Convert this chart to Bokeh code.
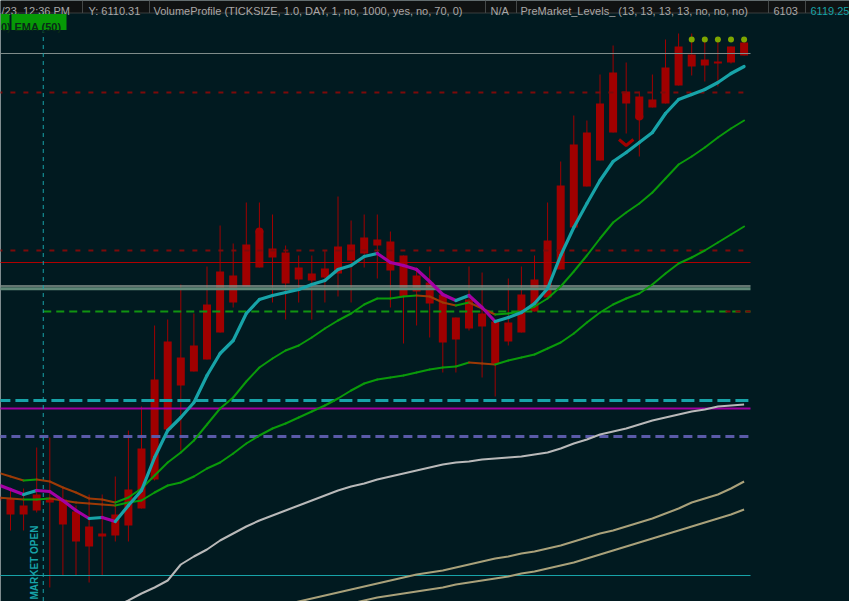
import numpy as np
from bokeh.plotting import figure
from bokeh.models import Range1d
from bokeh.core.properties import value
from bokeh.embed import file_html
from bokeh.resources import INLINE

# ---------------- data ----------------
bar_index = list(range(-1, 57))
opens = [6078.4, 6078.2, 6077.5, 6078.6, 6078.3, 6078.1, 6076.9, 6075.4, 6074.7, 6076.6,
         6079.1, 6083.2, 6090.1, 6093.9, 6092.3, 6093.5, 6097.6, 6100.9, 6100.5, 6103.6,
         6105.0, 6103.2, 6102.8, 6101.3, 6100.7, 6101.2, 6103.4, 6103.6, 6104.3, 6104.1,
         6103.9, 6102.5, 6100.5, 6099.8, 6098.6, 6096.3, 6098.1, 6096.7, 6095.9, 6095.8,
         6098.6, 6100.1, 6104.0, 6109.5, 6113.6, 6114.8, 6117.7, 6120.8, 6118.9, 6118.4,
         6118.1, 6121.3, 6123.4, 6122.6, 6122.1, 6121.9, 6123.4, 6123.8]
closes = [6078.0, 6076.6, 6076.6, 6077.0, 6077.8, 6075.6, 6073.9, 6073.4, 6074.4, 6074.5,
          6075.5, 6077.2, 6080.1, 6085.1, 6089.5, 6090.9, 6092.1, 6094.8, 6097.8, 6099.4,
          6101.3, 6102.3, 6099.7, 6100.1, 6100.0, 6100.3, 6100.7, 6102.0, 6102.7, 6103.5,
          6101.0, 6098.4, 6098.9, 6097.7, 6093.8, 6094.1, 6095.2, 6095.4, 6091.7, 6093.9,
          6094.8, 6096.9, 6098.3, 6101.1, 6105.3, 6109.4, 6112.0, 6114.8, 6117.7, 6116.2,
          6117.3, 6117.7, 6119.5, 6121.4, 6121.5, 6121.7, 6121.8, 6122.5]
highs = [6079.0, 6079.0, 6079.2, 6083.3, 6084.3, 6079.3, 6077.5, 6078.6, 6078.6, 6080.4,
         6085.0, 6087.4, 6095.5, 6096.1, 6099.6, 6096.7, 6101.4, 6105.5, 6103.7, 6107.8,
         6107.8, 6106.6, 6103.5, 6102.5, 6102.5, 6103.0, 6108.4, 6106.0, 6106.6, 6106.6,
         6104.9, 6102.5, 6101.3, 6101.4, 6098.6, 6096.3, 6101.4, 6100.8, 6095.9, 6100.2,
         6101.4, 6102.5, 6107.8, 6111.9, 6116.5, 6116.0, 6120.6, 6123.5, 6121.8, 6118.9,
         6120.6, 6124.1, 6124.7, 6124.7, 6124.1, 6124.0, 6123.4, 6123.8]
lows = [6077.5, 6075.0, 6075.0, 6076.8, 6069.3, 6070.5, 6070.5, 6069.8, 6070.5, 6073.9,
        6073.9, 6077.2, 6080.0, 6085.1, 6083.0, 6090.9, 6092.1, 6094.8, 6097.3, 6099.4,
        6101.3, 6097.8, 6096.1, 6097.8, 6096.1, 6097.8, 6098.4, 6097.8, 6101.3, 6100.2,
        6097.3, 6093.7, 6095.5, 6094.3, 6090.8, 6090.8, 6095.0, 6090.3, 6088.4, 6093.5,
        6094.8, 6096.9, 6098.3, 6101.1, 6105.3, 6109.4, 6112.0, 6114.8, 6114.7, 6112.4,
        6117.3, 6117.7, 6119.5, 6120.5, 6119.9, 6119.4, 6121.7, 6122.5]

ema_fast = [6079.6, 6079.1, 6078.6, 6079.0, 6078.9, 6078.0, 6077.0, 6076.2, 6076.3, 6075.9,
            6077.5, 6079.0, 6082.3, 6085.0, 6086.3, 6087.8, 6090.5, 6092.7, 6094.0, 6096.7,
            6098.1, 6098.5, 6098.8, 6099.1, 6099.6, 6100.0, 6101.1, 6101.5, 6102.4, 6102.7,
            6101.8, 6101.5, 6101.1, 6099.9, 6098.6, 6098.0, 6098.5, 6097.3, 6095.9, 6096.3,
            6096.8, 6097.7, 6099.2, 6102.5, 6105.3, 6107.7, 6110.0, 6111.9, 6112.8, 6113.8,
            6114.8, 6116.7, 6118.1, 6118.6, 6119.1, 6119.8, 6120.7, 6121.4]
ema_20 = [6080.8, 6080.4, 6080.0, 6080.1, 6079.9, 6079.3, 6078.8, 6078.2, 6078.1, 6077.8,
          6078.3, 6079.2, 6080.5, 6081.8, 6082.8, 6084.0, 6085.6, 6087.2, 6088.3, 6089.9,
          6091.3, 6092.2, 6093.0, 6093.5, 6094.3, 6095.2, 6096.0, 6096.7, 6097.6, 6098.2,
          6098.2, 6098.4, 6098.5, 6098.4, 6097.8, 6097.5, 6097.8, 6097.2, 6096.6, 6096.7,
          6096.9, 6097.4, 6098.2, 6099.4, 6100.9, 6102.5, 6104.2, 6105.8, 6106.8, 6107.7,
          6108.8, 6110.2, 6111.6, 6112.4, 6113.3, 6114.3, 6115.2, 6116.0]
ema_50 = [6078.3, 6078.2, 6078.1, 6078.1, 6078.2, 6078.0, 6077.8, 6077.7, 6077.6, 6077.5,
          6077.8, 6078.0, 6078.8, 6079.5, 6079.8, 6080.4, 6081.2, 6081.8, 6082.7, 6083.7,
          6084.5, 6085.2, 6085.7, 6086.3, 6086.9, 6087.5, 6088.2, 6089.0, 6089.7, 6090.1,
          6090.3, 6090.5, 6090.8, 6091.1, 6091.3, 6091.4, 6091.8, 6091.7, 6091.6, 6092.0,
          6092.3, 6092.6, 6093.2, 6093.8, 6094.7, 6095.8, 6096.8, 6097.6, 6098.2, 6098.7,
          6099.6, 6100.7, 6101.7, 6102.3, 6103.0, 6103.8, 6104.6, 6105.4]

sma_bars = list(range(7, 57))
sma_gray = [6066.9, 6067.4, 6068.0, 6068.7, 6069.3, 6070.0, 6071.6, 6072.4, 6073.1, 6074.0,
            6074.7, 6075.4, 6076.0, 6076.5, 6077.0, 6077.5, 6078.0, 6078.5, 6079.0, 6079.4,
            6079.7, 6080.1, 6080.4, 6080.7, 6081.0, 6081.3, 6081.6, 6081.8, 6081.9, 6082.1,
            6082.2, 6082.3, 6082.4, 6082.6, 6082.8, 6083.2, 6083.7, 6084.1, 6084.6, 6084.9,
            6085.2, 6085.6, 6086.0, 6086.3, 6086.6, 6086.9, 6087.1, 6087.4, 6087.5, 6087.6]
khaki1_bars = list(range(19, 57))
khaki1 = [6067.0, 6067.3, 6067.6, 6067.9, 6068.2, 6068.5, 6068.8, 6069.1, 6069.4, 6069.7,
          6070.0, 6070.3, 6070.6, 6070.8, 6071.0, 6071.3, 6071.6, 6071.9, 6072.2, 6072.4,
          6072.7, 6072.9, 6073.2, 6073.5, 6073.9, 6074.3, 6074.7, 6075.0, 6075.4, 6075.8,
          6076.2, 6076.7, 6077.2, 6077.8, 6078.2, 6078.6, 6079.2, 6079.9]
khaki2_bars = list(range(23, 57))
khaki2 = [6066.9, 6067.3, 6067.5, 6067.7, 6068.0, 6068.3, 6068.5, 6068.7, 6068.9, 6069.1,
          6069.3, 6069.6, 6069.8, 6070.0, 6070.2, 6070.4, 6070.7, 6070.9, 6071.2, 6071.5,
          6071.8, 6072.2, 6072.6, 6073.0, 6073.4, 6073.8, 6074.2, 6074.6, 6075.0, 6075.4,
          6075.8, 6076.2, 6076.6, 6077.1]

level_prices = [6122.7, 6118.8, 6103.0, 6101.8, 6099.45, 6099.17, 6096.9, 6088.0, 6087.2, 6084.4, 6070.5]
market_open_bar = 2.5
signal_bars = [47]
signal_prices = [6113.5]
bubble_bars = [19, 48]
bubble_prices = [6104.9, 6116.4]
dot_bars = [52, 53, 54, 55, 56]
dot_prices = [6124.1, 6124.1, 6124.1, 6124.1, 6124.1]

header_texts = ["/23, 12:36 PM", "Y: 6110.31",
                "VolumeProfile (TICKSIZE, 1.0, DAY, 1, no, 1000, yes, no, 70, 0)", "N/A",
                "PreMarket_Levels_ (13, 13, 13, 13, no, no, no)", "6103", "6119.25"]

# ---------------- styles / layout ----------------
BG = "#011a20"
RED = "#a00000"
CYAN = "#17a3a8"
MAGENTA = "#a400a4"
GREEN = "#0a9a0a"
BROWN = "#9c3a06"
W, H = 849, 601
BAR_PX, X0_PX, PX_PER_PT, TOP_PRICE = 13.1, 10.0, 10.0, 6128.0
HEAD_PX = 12.5


def px_x(px):
    return (px - X0_PX) / BAR_PX


def px_y(py):
    return TOP_PRICE - py / PX_PER_PT


level_styles = [("#7f8c8a", 1, "solid"), ("#7c0a0a", 2, "5 8"), ("#7c0a0a", 2, "5 8"),
                ("#b00000", 1, "solid"), ("#86948d", 1.5, "solid"), ("#5f8877", 3, "solid"),
                ("#119311", 2, "8 5"), (CYAN, 3, "13 5"), ("#a000a0", 2, "solid"),
                ("#5a5aa8", 3, "9 5"), (CYAN, 1, "solid")]
LEVEL_START, LEVEL_END = -1.0, px_x(750)

p = figure(width=W, height=H, x_range=Range1d(px_x(0), px_x(W)),
           y_range=Range1d(px_y(H), px_y(0)), x_axis_type=None, y_axis_type=None,
           output_backend="svg", toolbar_location=None, min_border=0,
           background_fill_color=BG, border_fill_color=BG, outline_line_color=None)

x = np.array(bar_index, dtype=float)
# candles
p.segment(x, highs, x, lows, line_color=RED, line_width=1)
p.vbar(x=x, width=8 / BAR_PX, top=opens, bottom=closes, fill_color=RED, line_color=None)
p.scatter(bubble_bars, bubble_prices, marker="circle", size=8, fill_color=RED, line_color=None)

# price levels
for i, (lvl, (col, lw, dash)) in enumerate(zip(level_prices, level_styles)):
    start = market_open_bar if i == 6 else LEVEL_START
    p.segment([start], [lvl], [LEVEL_END], [lvl], line_color=col, line_width=lw, line_dash=dash)
p.segment([px_x(725)], [level_prices[6]], [LEVEL_END], [level_prices[6]],
          line_color="#7c0a0a", line_width=2, line_dash="5 5")

# market open line + label
p.segment([market_open_bar], [px_y(HEAD_PX)], [market_open_bar], [px_y(H)],
          line_color=CYAN, line_width=1, line_dash="4 4")
p.text(x=[market_open_bar - 0.66], y=[px_y(599)], text=["MARKET OPEN"], angle=np.pi / 2,
       text_font=value("Liberation Sans"), text_font_size="10px", text_font_style="bold",
       text_color=CYAN, text_align="left", text_baseline="alphabetic")

# slow averages
p.line(khaki1_bars, khaki1, line_color="#a9a17a", line_width=2)
p.line(khaki2_bars, khaki2, line_color="#a9a17a", line_width=2)
p.line(sma_bars, sma_gray, line_color="#b9b9b9", line_width=2)


def two_tone(vals, up_col, dn_col, lw):
    v = np.array(vals)
    cols = [up_col if v[k + 1] >= v[k] else dn_col for k in range(len(v) - 1)]
    p.segment(x[:-1], v[:-1], x[1:], v[1:], line_color=cols, line_width=lw, line_cap="round")


two_tone(ema_50, GREEN, BROWN, 2)
two_tone(ema_20, GREEN, BROWN, 2)
two_tone(ema_fast, CYAN, MAGENTA, 3.2)

# signal chevron and dots
sx = [[b - 0.55, b, b + 0.55] for b in signal_bars]
sy = [[v + 0.6, v, v + 0.6] for v in signal_prices]
p.multi_line(sx, sy, line_color=RED, line_width=3)
p.scatter(dot_bars, dot_prices, marker="circle", size=6, fill_color="#7ea600", line_color=None)

# header strip
p.quad(left=[px_x(0)], right=[px_x(W)], top=[px_y(0)], bottom=[px_y(HEAD_PX)],
       fill_color="#101212", line_color=None)
p.segment([px_x(0)], [px_y(HEAD_PX)], [px_x(W)], [px_y(HEAD_PX)], line_color="#3a3d3d", line_width=1)
sep_px = [82, 149, 485, 516, 768, 805]
p.segment([px_x(s) for s in sep_px], [px_y(0)] * 6, [px_x(s) for s in sep_px], [px_y(HEAD_PX)] * 6,
          line_color="#444848", line_width=1)
head_px = [1, 88, 153, 490, 520, 773, 810]
head_cols = ["#a8a8a8"] * 6 + [CYAN]
p.text(x=[px_x(h) for h in head_px], y=[px_y(10)] * 7, text=header_texts,
       text_font=value("Liberation Sans"), text_font_size="11px", text_color=head_cols,
       text_align="left", text_baseline="alphabetic")

# study labels
p.quad(left=[px_x(0), px_x(11)], right=[px_x(9), px_x(66)], top=[px_y(13.5)] * 2,
       bottom=[px_y(29.5)] * 2, fill_color="#069906", line_color=None)
p.text(x=[px_x(0.5), px_x(14)], y=[px_y(26)] * 2, text=["0)", "EMA (50)"],
       text_font=value("Liberation Sans"), text_font_size="11px", text_font_style="bold",
       text_color="#0a2a18", text_align="left", text_baseline="alphabetic")

open("out.html", "w").write(file_html(p, INLINE))
